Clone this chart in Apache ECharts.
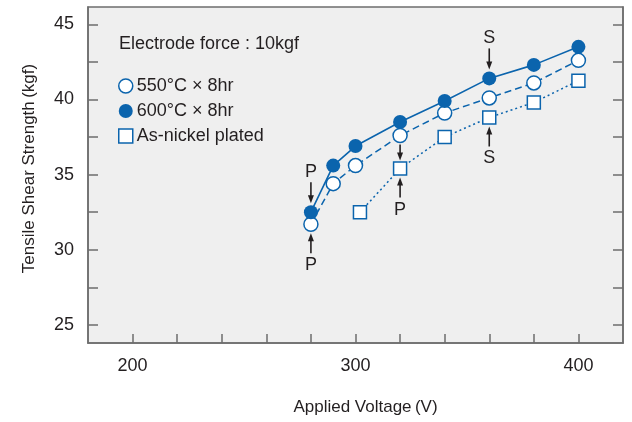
<!DOCTYPE html>
<html>
<head>
<meta charset="utf-8">
<title>Tensile Shear Strength</title>
<script src="https://cdn.jsdelivr.net/npm/echarts@6/dist/echarts.min.js"></script>
<style>
  html, body { margin: 0; padding: 0; background: #fff; }
  #chart1 { width: 632px; height: 422px; }
</style>
</head>
<body>
<div id="chart1"></div>
<script type="text/javascript">
// 读图得到的数据
var voltage = [280, 290, 300, 320, 340, 360, 380, 400];
var s600 = [32.5, 35.6, 36.9, 38.5, 39.9, 41.4, 42.3, 43.5];
var s550 = [31.7, 34.4, 35.6, 37.6, 39.1, 40.1, 41.1, 42.6];
var platedVoltage = [302, 320, 340, 360, 380, 400];
var plated = [32.5, 35.4, 37.5, 38.8, 39.8, 41.25];

var xTicks = [200, 220, 240, 260, 280, 300, 320, 340, 360, 380, 400];
var xLabels = [200, 300, 400];
var yTicks = [25, 27.5, 30, 32.5, 35, 37.5, 40, 42.5, 45];
var yLabels = [25, 30, 35, 40, 45];

// P / S 标注
var annX = [280, 280, 320, 320, 360, 360];
var annY = [32.5, 31.7, 35.4, 35.4, 41.4, 38.8];
var annText = ['P', 'P', '', 'P', 'S', 'S'];
var annSide = ['up', 'down', 'mid', 'down', 'up', 'down'];

var blue = '#0b64ad';
var ink = '#231f20';
var font = 'Liberation Sans, Arial, sans-serif';

function pairs(xs, ys) {
    return xs.map(function (x, i) { return [x, ys[i]]; });
}

var myChart = echarts.init(document.getElementById('chart1'));

function arrow(x, yTail, yTip) {
    var d = yTip > yTail ? 1 : -1;
    return [
        { type: 'line', shape: { x1: x, y1: yTail, x2: x, y2: yTip - d * 6 },
          style: { stroke: ink, lineWidth: 1.6 } },
        { type: 'polygon', shape: { points: [[x - 3, yTip - d * 8], [x + 3, yTip - d * 8], [x, yTip]] },
          style: { fill: ink } }
    ];
}

var option = {
    animation: false,
    textStyle: { fontFamily: font, color: ink },
    title: {
        text: 'Electrode force : 10kgf',
        left: 114, top: 30,
        textStyle: { fontFamily: font, fontSize: 18, fontWeight: 'normal', color: ink }
    },
    legend: {
        orient: 'vertical',
        left: 113, top: 72,
        itemWidth: 14, itemHeight: 14, itemGap: 7,
        textStyle: { fontFamily: font, fontSize: 18, color: ink, padding: [0, 0, 0, -1] },
        data: [
            { name: '550°C × 8hr', icon: 'circle', itemStyle: { color: '#fff', borderColor: blue, borderWidth: 1.5 } },
            { name: '600°C × 8hr', icon: 'circle', itemStyle: { color: blue } },
            { name: 'As-nickel plated', icon: 'rect', itemStyle: { color: '#fff', borderColor: blue, borderWidth: 1.5 } }
        ]
    },
    grid: {
        left: 88, right: 9, top: 7, bottom: 79,
        show: true, backgroundColor: '#efefef',
        borderColor: '#6d6d6d', borderWidth: 1.5
    },
    xAxis: {
        type: 'value', min: 180, max: 420,
        name: 'Applied Voltage\u2009(V)',
        nameLocation: 'middle', nameGap: 56,
        nameTextStyle: { fontFamily: font, fontSize: 17, color: ink, padding: [0, 0, 0, 20] },
        axisLine: { lineStyle: { color: '#6d6d6d', width: 1.5 } },
        axisTick: { inside: true, length: 9, customValues: xTicks, lineStyle: { color: '#6d6d6d', width: 1.5 } },
        axisLabel: { customValues: xLabels, margin: 14, fontFamily: font, fontSize: 18, color: ink },
        splitLine: { show: false }
    },
    yAxis: [{
        type: 'value', min: 23.8, max: 46.15,
        name: 'Tensile Shear Strength\u2009(kgf)',
        nameLocation: 'middle', nameGap: 50,
        nameTextStyle: { fontFamily: font, fontSize: 17, color: ink, padding: [0, 0, 0, 13] },
        axisLine: { show: true, lineStyle: { color: '#6d6d6d', width: 1.5 } },
        axisTick: { show: true, inside: true, length: 10, customValues: yTicks, lineStyle: { color: '#6d6d6d', width: 1.5 } },
        axisLabel: { customValues: yLabels, margin: 14, fontFamily: font, fontSize: 18, color: ink },
        splitLine: { show: false }
    }, {
        type: 'value', min: 23.8, max: 46.15, position: 'right',
        axisLine: { show: true, lineStyle: { color: '#6d6d6d', width: 1.5 } },
        axisTick: { show: true, inside: true, length: 10, customValues: yTicks, lineStyle: { color: '#6d6d6d', width: 1.5 } },
        axisLabel: { show: false },
        splitLine: { show: false }
    }],
    series: [{
        name: 'As-nickel plated',
        type: 'line',
        data: pairs(platedVoltage, plated),
        symbol: 'rect', symbolSize: 13,
        itemStyle: { color: '#fff', borderColor: blue, borderWidth: 1.5 },
        lineStyle: { color: blue, width: 1.5, type: [2, 3] }
    }, {
        name: '550°C × 8hr',
        type: 'line',
        data: pairs(voltage, s550),
        symbol: 'circle', symbolSize: 14,
        itemStyle: { color: '#fff', borderColor: blue, borderWidth: 1.5 },
        lineStyle: { color: blue, width: 1.5, type: [7, 4] }
    }, {
        name: '600°C × 8hr',
        type: 'line',
        data: pairs(voltage, s600),
        symbol: 'circle', symbolSize: 14,
        itemStyle: { color: blue },
        lineStyle: { color: blue, width: 1.6 }
    }, {
        name: 'annot',
        type: 'custom',
        data: pairs(annX, annY),
        z: 10,
        renderItem: function (params, api) {
            var p = api.coord([api.value(0), api.value(1)]);
            var side = annSide[params.dataIndex];
            var kids;
            if (side === 'up') {
                kids = arrow(p[0], p[1] - 30, p[1] - 9);
                kids.push({ type: 'text', x: p[0], y: p[1] - 40,
                    style: { text: annText[params.dataIndex], fill: ink, font: '18px ' + font, align: 'center', verticalAlign: 'middle' } });
            } else if (side === 'down') {
                kids = arrow(p[0], p[1] + 29, p[1] + 9);
                kids.push({ type: 'text', x: p[0], y: p[1] + 41,
                    style: { text: annText[params.dataIndex], fill: ink, font: '18px ' + font, align: 'center', verticalAlign: 'middle' } });
            } else {
                kids = arrow(p[0], p[1] - 24, p[1] - 8);
            }
            return { type: 'group', children: kids };
        }
    }]
};

myChart.setOption(option);
</script>
</body>
</html>
